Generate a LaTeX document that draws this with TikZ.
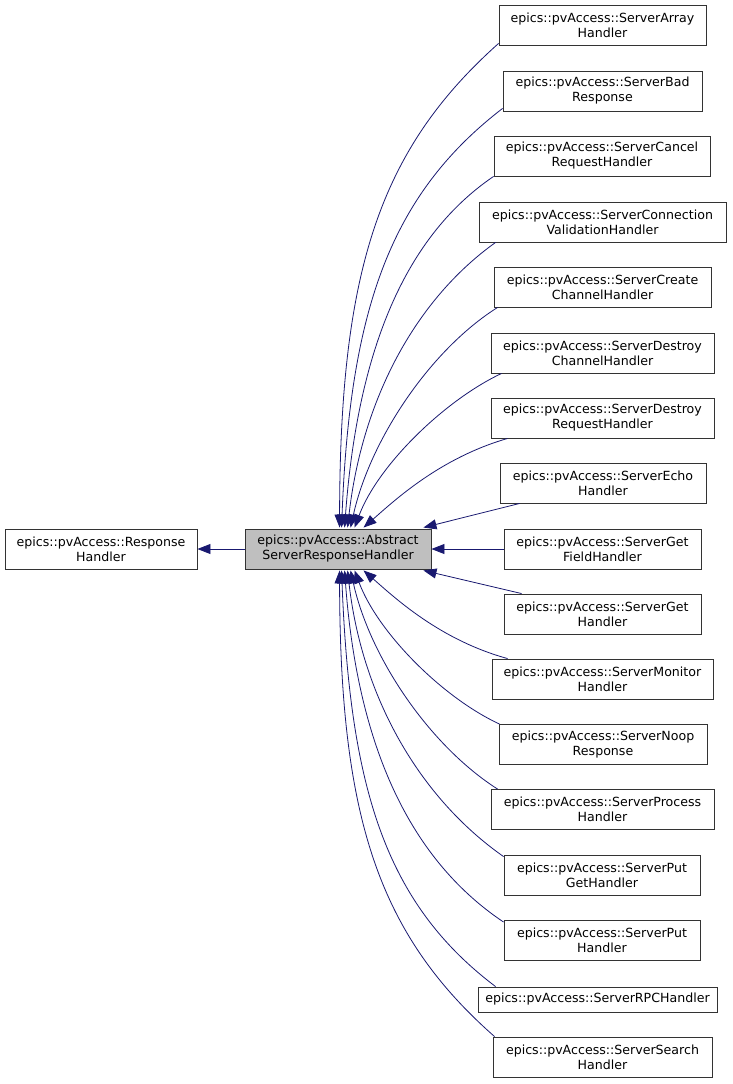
\documentclass[tikz,border=0pt]{standalone}
\usepackage{fontspec}
\setmainfont{DejaVu Sans}
\usetikzlibrary{arrows.meta}
\definecolor{edgeblue}{RGB}{25,25,112}
\definecolor{basegray}{RGB}{191,191,191}
\begin{document}
\begin{tikzpicture}[x=1pt,y=-1pt,
  box/.style={draw=black!80, line width=0.9pt, fill=white, inner sep=0pt, align=center,
    minimum height=40pt, font=\fontsize{12.6}{15}\selectfont},
  edge/.style={draw=edgeblue, line width=0.8pt, -{Triangle[length=13pt,width=10pt]}}]
\useasboundingbox (0,0) rectangle (732,1084);
% nodes
\node[box, minimum width=192pt] (resp) at (101,549) {epics::pvAccess::Response\\Handler};
\node[box, minimum width=186pt, fill=basegray] (c) at (338,549) {epics::pvAccess::Abstract\\ServerResponseHandler};
\node[box, minimum width=207pt] (arr) at (602.5,25) {epics::pvAccess::ServerArray\\Handler};
\node[box, minimum width=199pt] (bad) at (602.5,91) {epics::pvAccess::ServerBad\\Response};
\node[box, minimum width=216pt] (cancel) at (602,156) {epics::pvAccess::ServerCancel\\RequestHandler};
\node[box, minimum width=247pt] (conn) at (602.5,222) {epics::pvAccess::ServerConnection\\ValidationHandler};
\node[box, minimum width=217pt] (create) at (602.5,287) {epics::pvAccess::ServerCreate\\ChannelHandler};
\node[box, minimum width=223pt] (dch) at (602.5,353) {epics::pvAccess::ServerDestroy\\ChannelHandler};
\node[box, minimum width=223pt] (drq) at (602.5,418) {epics::pvAccess::ServerDestroy\\RequestHandler};
\node[box, minimum width=206pt] (echo) at (603,483) {epics::pvAccess::ServerEcho\\Handler};
\node[box, minimum width=197pt] (gf) at (602.5,549) {epics::pvAccess::ServerGet\\FieldHandler};
\node[box, minimum width=197pt] (gh) at (602.5,614) {epics::pvAccess::ServerGet\\Handler};
\node[box, minimum width=221pt] (mon) at (602.5,679) {epics::pvAccess::ServerMonitor\\Handler};
\node[box, minimum width=208pt] (noop) at (603,744.5) {epics::pvAccess::ServerNoop\\Response};
\node[box, minimum width=223pt] (proc) at (602.5,809.5) {epics::pvAccess::ServerProcess\\Handler};
\node[box, minimum width=196pt] (pg) at (602,875) {epics::pvAccess::ServerPut\\GetHandler};
\node[box, minimum width=196pt] (put) at (602,940.5) {epics::pvAccess::ServerPut\\Handler};
\node[box, minimum width=239pt, minimum height=25pt] (rpc) at (597.5,999.5) {epics::pvAccess::ServerRPCHandler};
\node[box, minimum width=219pt] (srch) at (602.5,1057) {epics::pvAccess::ServerSearch\\Handler};
% inheritance edges
\draw[edge] (c.west) -- (resp.east);
\draw[edge] ([yshift=2pt]arr.south west) .. controls (379,150) and (340,271) .. ([xshift=95pt,yshift=1pt]c.north west);
\draw[edge] ([yshift=3pt]bad.south west) .. controls (390,195) and (350,310) .. ([xshift=97pt,yshift=1pt]c.north west);
\draw[edge] (cancel.south west) .. controls (400,240) and (357,360) .. ([xshift=100pt,yshift=1pt]c.north west);
\draw[edge] ([xshift=17pt]conn.south west) .. controls (415,300) and (362,400) .. ([xshift=103pt,yshift=1pt]c.north west);
\draw[edge] ([xshift=4pt]create.south west) .. controls (430,350) and (370,440) .. ([xshift=106pt,yshift=1pt]c.north west);
\draw[edge] ([xshift=11pt]dch.south west) .. controls (445,400) and (378,465) .. ([xshift=110pt,yshift=1pt]c.north west);
\draw[edge] ([xshift=17pt]drq.south west) .. controls (440,458) and (395,500) .. ([xshift=119pt,yshift=1pt]c.north west);
\draw[edge] ([xshift=20pt]echo.south west) -- ([xshift=-8pt,yshift=1pt]c.north east);
\draw[edge] (gf.west) -- (c.east);
\draw[edge] ([xshift=18pt]gh.north west) -- ([xshift=-8pt,yshift=-1pt]c.south east);
\draw[edge] ([xshift=16pt]mon.north west) .. controls (440,640) and (395,598) .. ([xshift=119pt,yshift=-1pt]c.south west);
\draw[edge] ([xshift=1pt]noop.north west) .. controls (443,698) and (378,633) .. ([xshift=110pt,yshift=-1pt]c.south west);
\draw[edge] ([xshift=7pt]proc.north west) .. controls (430,746) and (370,658) .. ([xshift=106pt,yshift=-1pt]c.south west);
\draw[edge] ([yshift=-2pt]pg.north west) .. controls (420,798) and (362,698) .. ([xshift=103pt,yshift=-1pt]c.south west);
\draw[edge] ([yshift=-2pt]put.north west) .. controls (405,856) and (357,738) .. ([xshift=100pt,yshift=-1pt]c.south west);
\draw[edge] ([xshift=18pt]rpc.north west) .. controls (385,903) and (350,788) .. ([xshift=97pt,yshift=-1pt]c.south west);
\draw[edge] ([xshift=2pt]srch.north west) .. controls (378,934) and (340,817) .. ([xshift=95pt,yshift=-1pt]c.south west);
\end{tikzpicture}
\end{document}
